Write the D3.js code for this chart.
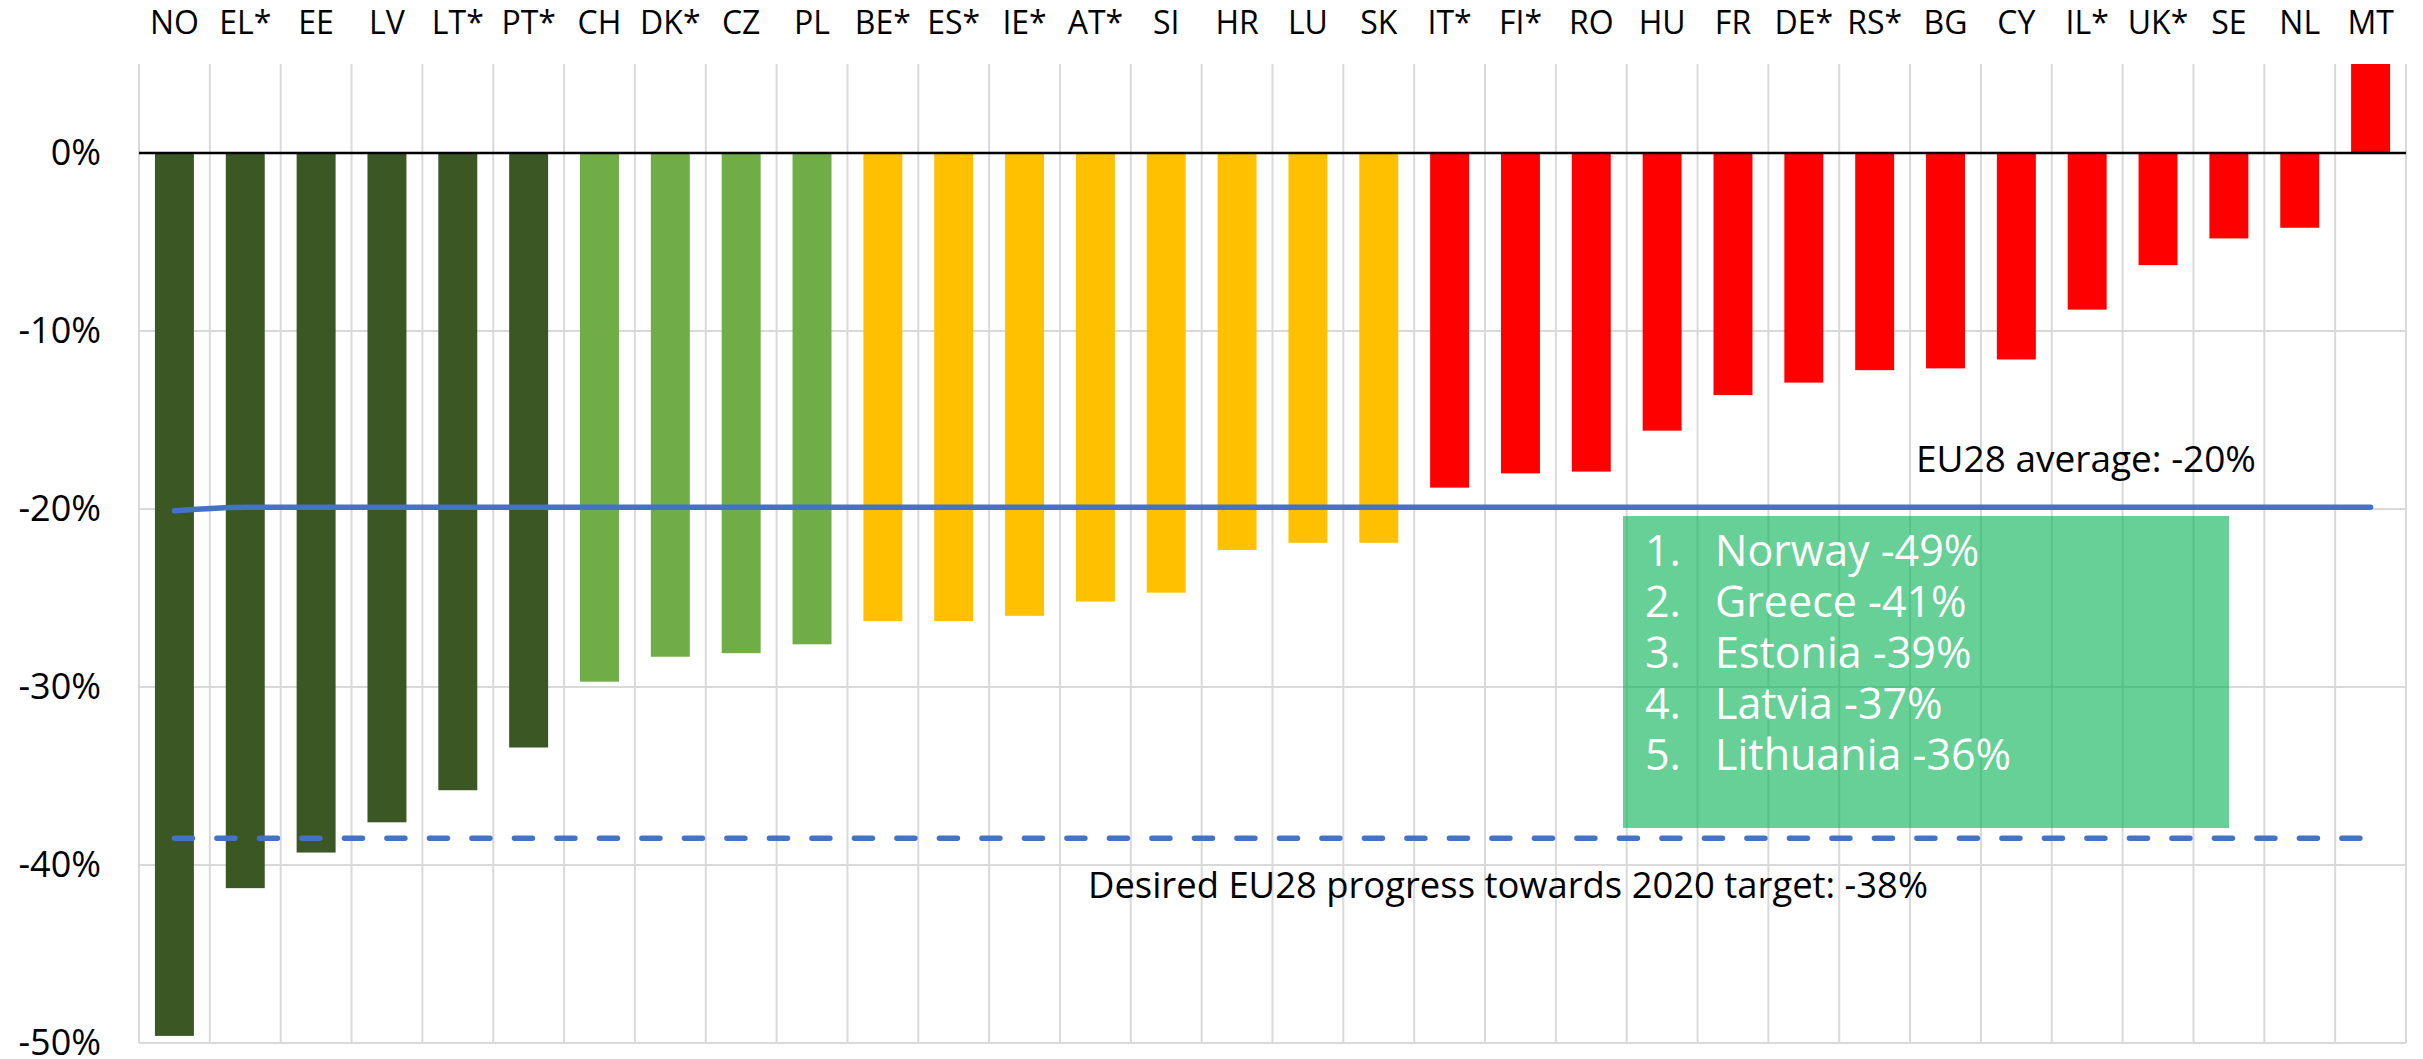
<!DOCTYPE html>
<html>
<head>
<meta charset="utf-8">
<script src="https://cdn.jsdelivr.net/npm/d3@7"></script>
<style>
	body { margin: 0; background: #fff; }
	svg { display: block; font-family: "Open Sans", sans-serif; }
	.grid line { stroke: #d9d9d9; stroke-width: 2; }
	.axis .domain { display: none; }
	.axis text { fill: #000; }
</style>
</head>
<body>
<svg id="plot" width="2423" height="1059"></svg>
<script>

/*
	Run the action when we are sure the DOM has been loaded
*/
function whenDocumentLoaded(action) {
	if (document.readyState === "loading") {
		document.addEventListener("DOMContentLoaded", action);
	} else {
		action();
	}
}

const COUNTRIES = ['NO', 'EL*', 'EE', 'LV', 'LT*', 'PT*', 'CH', 'DK*', 'CZ', 'PL',
	'BE*', 'ES*', 'IE*', 'AT*', 'SI', 'HR', 'LU', 'SK',
	'IT*', 'FI*', 'RO', 'HU', 'FR', 'DE*', 'RS*', 'BG', 'CY', 'IL*', 'UK*', 'SE', 'NL', 'MT'];
// change in %
const CHANGE = [-49.6, -41.3, -39.3, -37.6, -35.8, -33.4, -29.7, -28.3, -28.1, -27.6,
	-26.3, -26.3, -26.0, -25.2, -24.7, -22.3, -21.9, -21.9,
	-18.8, -18.0, -17.9, -15.6, -13.6, -12.9, -12.2, -12.1, -11.6, -8.8, -6.3, -4.8, -4.2, 5.0];
const TIER = ['top', 'top', 'top', 'top', 'top', 'top', 'good', 'good', 'good', 'good',
	'mid', 'mid', 'mid', 'mid', 'mid', 'mid', 'mid', 'mid',
	'low', 'low', 'low', 'low', 'low', 'low', 'low', 'low', 'low', 'low', 'low', 'low', 'low', 'low'];
const EU_AVERAGE = [-20.1, -19.9, -19.9, -19.9, -19.9, -19.9, -19.9, -19.9, -19.9, -19.9,
	-19.9, -19.9, -19.9, -19.9, -19.9, -19.9, -19.9, -19.9, -19.9, -19.9, -19.9,
	-19.9, -19.9, -19.9, -19.9, -19.9, -19.9, -19.9, -19.9, -19.9, -19.9, -19.9];
const EU_TARGET = [-38.5, -38.5, -38.5, -38.5, -38.5, -38.5, -38.5, -38.5, -38.5, -38.5,
	-38.5, -38.5, -38.5, -38.5, -38.5, -38.5, -38.5, -38.5, -38.5, -38.5, -38.5,
	-38.5, -38.5, -38.5, -38.5, -38.5, -38.5, -38.5, -38.5, -38.5, -38.5, -38.5];
const Y_TICKS = [0, -10, -20, -30, -40, -50];
const TOP_FIVE = ['Norway -49%', 'Greece -41%', 'Estonia -39%', 'Latvia -37%', 'Lithuania -36%'];
const AVERAGE_LABEL = 'EU28 average: -20%';
const TARGET_LABEL = 'Desired EU28 progress towards 2020 target: -38%';

const TIER_COLORS = { top: '#3a5724', good: '#70ad47', mid: '#ffc000', low: '#ff0000' };

class ChangeChart {
	constructor(elementId) {
		this.elementId = elementId;
		this.draw();
	}
	draw() {
		const svg = d3.select(`#${this.elementId}`);
		const x = d3.scaleBand()
			.domain(COUNTRIES)
			.range([139, 2406])
			.paddingInner(0.45)
			.paddingOuter(0.225);
		const y = d3.scaleLinear()
			.domain([-50, 5])
			.range([1043, 64]);
		const cx = (c) => x(c) + x.bandwidth() / 2;

		// gridlines
		const grid = svg.append('g').attr('class', 'grid');
		grid.selectAll('line.v')
			.data(d3.range(COUNTRIES.length + 1))
			.enter()
			.append('line')
				.attr('class', 'v')
				.attr('x1', (i) => x.range()[0] + i * x.step())
				.attr('x2', (i) => x.range()[0] + i * x.step())
				.attr('y1', y(5))
				.attr('y2', y(-50));
		grid.selectAll('line.h')
			.data(Y_TICKS.filter((t) => t !== 0))
			.enter()
			.append('line')
				.attr('class', 'h')
				.attr('x1', x.range()[0])
				.attr('x2', x.range()[1])
				.attr('y1', (t) => y(t))
				.attr('y2', (t) => y(t));

		// bars
		svg.append('g')
			.selectAll('rect')
			.data(COUNTRIES)
			.enter()
			.append('rect')
				.attr('x', (c) => x(c))
				.attr('width', x.bandwidth())
				.attr('y', (c, i) => y(Math.max(0, CHANGE[i])))
				.attr('height', (c, i) => Math.abs(y(CHANGE[i]) - y(0)))
				.attr('fill', (c, i) => TIER_COLORS[TIER[i]]);

		// zero line
		svg.append('line')
			.attr('x1', x.range()[0])
			.attr('x2', x.range()[1])
			.attr('y1', y(0))
			.attr('y2', y(0))
			.attr('stroke', '#000')
			.attr('stroke-width', 2.5);

		// axes
		svg.append('g')
			.attr('class', 'axis')
			.attr('transform', `translate(${x.range()[0]}, 0)`)
			.call(d3.axisLeft(y).tickValues(Y_TICKS).tickFormat((d) => d + '%').tickSize(0).tickPadding(38))
			.selectAll('text')
				.style('font-size', '36px')
				.style('font-family', '"Open Sans", sans-serif');
		svg.append('g')
			.attr('class', 'axis')
			.attr('transform', `translate(0, ${y(5)})`)
			.call(d3.axisTop(x).tickSize(0).tickPadding(30))
			.selectAll('text')
				.style('font-size', '32px')
				.style('font-family', '"Open Sans", sans-serif');

		// EU28 lines
		const line = d3.line()
			.x((d, i) => cx(COUNTRIES[i]))
			.y((d) => y(d))
			.curve(d3.curveMonotoneX);
		svg.append('path')
			.datum(EU_AVERAGE)
			.attr('d', line)
			.attr('fill', 'none')
			.attr('stroke', '#4472c4')
			.attr('stroke-width', 5.5)
			.attr('stroke-linecap', 'round');
		svg.append('path')
			.datum(EU_TARGET)
			.attr('d', line)
			.attr('fill', 'none')
			.attr('stroke', '#4472c4')
			.attr('stroke-width', 5.5)
			.attr('stroke-linecap', 'round')
			.attr('stroke-dasharray', '18 24.5');

		// annotations
		svg.append('text')
			.attr('x', 1916)
			.attr('y', 472)
			.style('font-size', '37px')
			.text(AVERAGE_LABEL);
		svg.append('text')
			.attr('x', 1088)
			.attr('y', 898)
			.style('font-size', '36.4px')
			.text(TARGET_LABEL);

		const box = svg.append('g');
		box.append('rect')
			.attr('x', 1623)
			.attr('y', 516)
			.attr('width', 606)
			.attr('height', 312)
			.attr('fill', '#00b050')
			.attr('fill-opacity', 0.6);
		const rows = box.selectAll('g')
			.data(TOP_FIVE)
			.enter()
			.append('g')
				.attr('transform', (d, i) => `translate(0, ${566 + i * 51})`)
				.style('font-size', '43px')
				.attr('fill', '#fff');
		rows.append('text')
			.attr('x', 1645)
			.text((d, i) => (i + 1) + '.');
		rows.append('text')
			.attr('x', 1715)
			.text((d) => d);
	}
}

whenDocumentLoaded(() => {
	const chart = new ChangeChart('plot');
});

</script>
</body>
</html>
